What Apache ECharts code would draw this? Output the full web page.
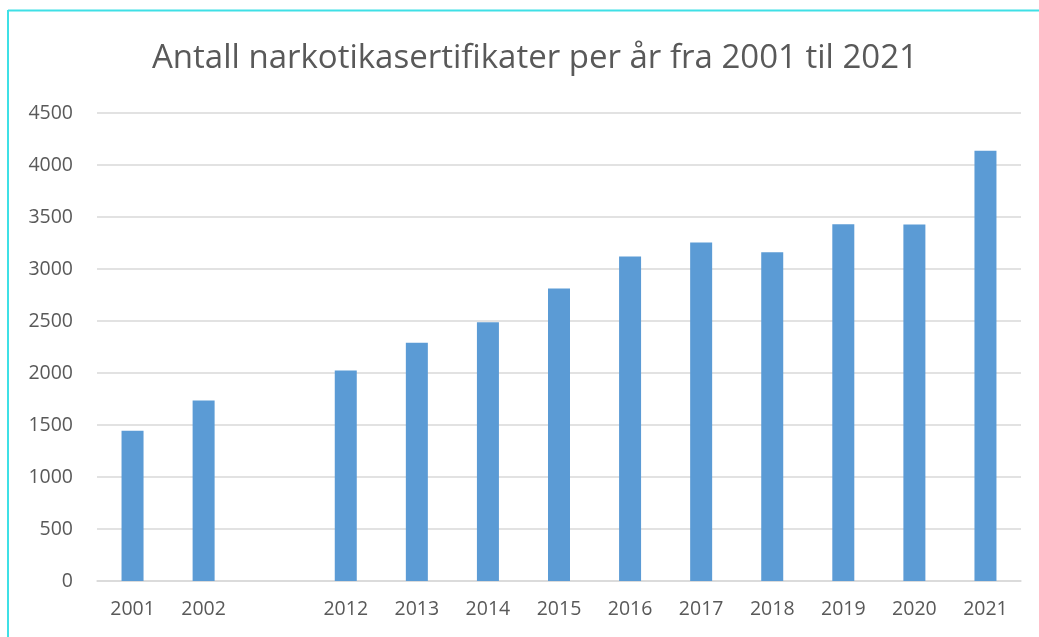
<!DOCTYPE html>
<html>
<head>
<meta charset="utf-8">
<script src="https://cdn.jsdelivr.net/npm/echarts@6/dist/echarts.min.js"></script>
<style>
html,body{margin:0;padding:0;background:#fff;}
#chart{width:1039px;height:637px;}
</style>
</head>
<body>
<div id="chart"></div>
<script>
const categories = ['2001','2002','','2012','2013','2014','2015','2016','2017','2018','2019','2020','2021'];
const values = [1445, 1735, null, 2025, 2291, 2487, 2812, 3120, 3255, 3160, 3430, 3428, 4138];
const yTicks = {min: 0, max: 4500, interval: 500};
const titleText = 'Antall narkotikasertifikater per år fra 2001 til 2021';

const chart = echarts.init(document.getElementById('chart'), null, {renderer: 'canvas'});
const font = '"Open Sans", "Noto Sans", sans-serif';
chart.setOption({
  animation: false,
  backgroundColor: '#ffffff',
  title: {
    text: titleText,
    left: 147,
    top: 37,
    textStyle: {fontFamily: font, fontSize: 33, fontWeight: 'normal', color: '#595959'}
  },
  grid: {left: 97, right: 18, top: 113, bottom: 56, containLabel: false},
  xAxis: {
    type: 'category',
    data: categories,
    axisLine: {show: true, lineStyle: {color: '#D9D9D9', width: 1.5}},
    axisTick: {show: false},
    axisLabel: {fontFamily: font, fontSize: 19.5, color: '#595959', margin: 18, interval: 0}
  },
  yAxis: {
    type: 'value',
    min: yTicks.min, max: yTicks.max, interval: yTicks.interval,
    axisLine: {show: false},
    axisTick: {show: false},
    splitLine: {lineStyle: {color: '#D9D9D9', width: 1.5}},
    axisLabel: {fontFamily: font, fontSize: 19.5, color: '#595959', margin: 24, formatter: function (v) { return String(v); }}
  },
  series: [{
    type: 'bar',
    data: values,
    barWidth: 22,
    itemStyle: {color: '#5B9BD5'}
  }],
  graphic: [
    {type: 'line', shape: {x1: 8, y1: 10.5, x2: 1039, y2: 10.5}, style: {stroke: '#3FE0E6', lineWidth: 2}},
    {type: 'line', shape: {x1: 8, y1: 10, x2: 8, y2: 637}, style: {stroke: '#3FE0E6', lineWidth: 2}}
  ]
});
</script>
</body>
</html>
